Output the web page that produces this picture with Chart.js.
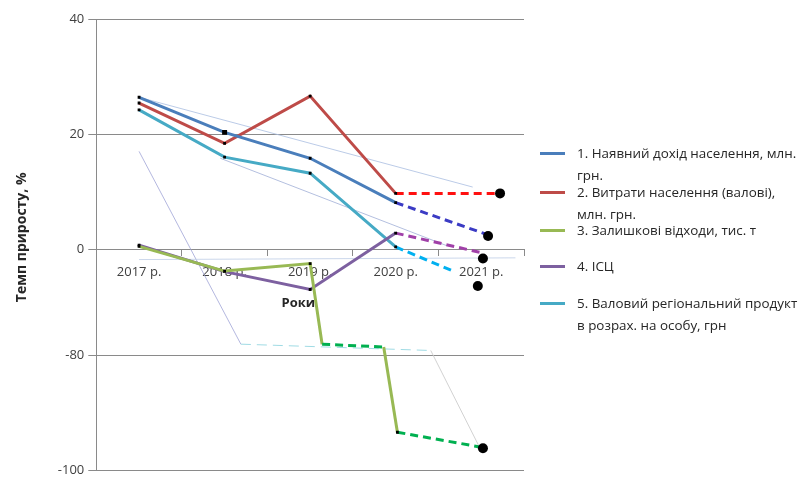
<!DOCTYPE html>
<html>
<head>
<meta charset="utf-8">
<script src="https://cdn.jsdelivr.net/npm/chart.js@4.4.1/dist/chart.umd.min.js"></script>
<style>
    html, body { margin: 0; padding: 0; background: #fff; }
    #wrap { position: relative; width: 803px; height: 482px; }
    #legend { position: absolute; left: 0; top: 0; font-family: "Open Sans", "DejaVu Sans", sans-serif; font-size: 13.4px; color: #262626; }
    .item { position: absolute; left: 540px; white-space: nowrap; line-height: 22px; }
    .item .sw { position: absolute; left: 0; top: 9.5px; width: 25px; height: 3px; }
    .item .tx { position: absolute; left: 37px; top: 0; }
</style>
</head>
<body>
<div id="wrap"><canvas id="chart"></canvas><div id="legend"></div></div>
<script>
// Підписи осі X і шкала Y (шкала з розривом між 0 і -80)
const years = ['2017 р.', '2018 р.', '2019 р.', '2020 р.', '2021 р.'];
const yTickLabels = [-100, -80, 0, 20, 40];

// Назви рядів для легенди
const seriesNames = [
    ['1. Наявний дохід населення, млн.', 'грн.'],
    ['2. Витрати населення (валові),', 'млн. грн.'],
    ['3. Залишкові відходи, тис. т'],
    ['4. ІСЦ'],
    ['5. Валовий регіональний продукт', 'в розрах. на особу, грн']
];
const seriesColors = ['#4a7ebb', '#be4b48', '#98b954', '#7d60a0', '#46aac5'];
const forecastColors = ['#3b3bc4', '#ff1010', '#00b050', '#a040a8', '#00b0f0'];

// Значення, % (остання точка кожного ряду - прогноз 2021 р.)
const incomeX = [0, 1, 2, 3, 4.06];
const income = [26.4, 20.3, 15.8, 8.1, 2.6];
const spendingX = [0, 1, 2, 3, 4.2];
const spending = [25.4, 18.4, 26.6, 9.7, 9.7];
const wasteX = [0, 1, 2, 2.14, 2.86, 3.02, 4.0];
const waste = [0.5, -3.8, -2.5, -78.1, -78.6, -93.4, -96.0];
const cpiX = [0, 1, 2, 3, 4.0];
const cpi = [0.7, -3.9, -7.0, 2.8, -0.6];
const grpX = [0, 1, 2, 3, 3.67];
const grp = [24.2, 16.0, 13.2, 0.4, -3.8];

// Великі точки прогнозу
const dotsX = [4.08, 4.22, 4.02, 3.96, 4.02];
const dots = [2.3, 9.7, -1.6, -6.4, -96.2];

// Бліді лінії тренду
const trendAX = [0, 3.9];
const trendA = [26.4, 10.8];
const trendBX = [0.95, 3.6];
const trendB = [15.8, 0.6];
const trendCX = [0, 4.4];
const trendC = [-1.8, -1.5];
const trendDX = [0, 1.19, 3.41, 4.0];
const trendD = [17, -78.1, -79.2, -96.6];

// розрив шкали: значення нижче -40 зсуваються вгору
const BREAK_SHIFT = 61.6;
function toAxis(v) {
    return v < -40 ? v + BREAK_SHIFT : v;
}
function pts(xs, ys) {
    return xs.map((x, i) => ({ x: x, y: toAxis(ys[i]) }));
}

const FONT = '"Open Sans", "DejaVu Sans", sans-serif';

function mainSeries(i, xs, ys, radii, dashedFrom) {
    return {
        label: seriesNames[i].join(' '),
        data: pts(xs, ys),
        borderColor: seriesColors[i],
        borderWidth: 3,
        pointStyle: 'rect',
        pointRadius: radii,
        pointBackgroundColor: '#000',
        pointBorderWidth: 0,
        order: 2,
        segment: {
            borderColor: ctx => dashedFrom.includes(ctx.p0DataIndex) ? forecastColors[i] : undefined,
            borderDash: ctx => dashedFrom.includes(ctx.p0DataIndex) ? [8, 5] : undefined
        }
    };
}

function faint(xs, ys, color, segColors, dashIdx) {
    return {
        data: pts(xs, ys),
        borderColor: color,
        borderWidth: 1,
        pointRadius: 0,
        order: 9,
        segment: {
            borderColor: ctx => segColors && segColors[ctx.p0DataIndex] ? segColors[ctx.p0DataIndex] : undefined,
            borderDash: ctx => ctx.p0DataIndex === dashIdx ? [10, 6] : undefined
        }
    };
}

const ctx = document.getElementById('chart').getContext('2d');
const chart = new Chart(ctx, {
    type: 'line',
    data: {
        datasets: [
            mainSeries(0, incomeX, income, [2, 3.5, 2, 2, 0], [3]),
            mainSeries(1, spendingX, spending, [2, 2, 2, 2, 0], [3]),
            mainSeries(2, wasteX, waste, [2, 2, 2, 0, 0, 2, 0], [3, 5]),
            mainSeries(3, cpiX, cpi, [2, 2, 2, 2, 0], [3]),
            mainSeries(4, grpX, grp, [2, 2, 2, 2, 0], [3]),
            {
                data: pts(dotsX, dots),
                showLine: false,
                pointRadius: 5,
                pointBackgroundColor: '#000',
                pointBorderWidth: 0,
                order: 1
            },
            faint(trendAX, trendA, 'rgba(170,190,225,0.8)'),
            faint(trendBX, trendB, 'rgba(160,175,215,0.8)'),
            faint(trendCX, trendC, 'rgba(190,205,230,0.8)'),
            faint(trendDX, trendD, 'rgba(160,165,215,0.8)', { 1: 'rgba(150,215,225,0.9)', 2: 'rgba(205,205,205,0.9)' }, 1)
        ]
    },
    options: {
        responsive: true,
        maintainAspectRatio: false,
        animation: false,
        layout: { padding: { left: 0, top: 19, right: 279, bottom: 0 } },
        plugins: {
            tooltip: { enabled: false },
            legend: { display: false }
        },
        scales: {
            x: {
                type: 'linear',
                position: { y: 0 },
                min: -0.5,
                max: 4.5,
                afterBuildTicks: s => {
                    s.ticks = [];
                    for (let v = -0.5; v <= 4.5; v += 0.5) s.ticks.push({ value: v });
                },
                ticks: {
                    autoSkip: false,
                    maxRotation: 0,
                    padding: 9,
                    color: '#404040',
                    font: { family: FONT, size: 13 },
                    callback: v => Number.isInteger(v) ? years[v] : ''
                },
                grid: {
                    drawOnChartArea: false,
                    drawTicks: true,
                    tickLength: 6,
                    tickColor: c => (c.tick && c.tick.value % 1 !== 0) ? '#8a8a8a' : 'rgba(0,0,0,0)'
                },
                border: { color: '#8a8a8a', width: 1 },
                title: {
                    display: true,
                    text: 'Роки       ',
                    color: '#262626',
                    font: { family: FONT, size: 13, weight: 'bold' },
                    padding: { top: 7, bottom: 0 }
                }
            },
            y: {
                min: toAxis(-100),
                max: 40,
                afterBuildTicks: s => {
                    s.ticks = yTickLabels.map(v => ({ value: toAxis(v) }));
                },
                ticks: {
                    padding: 4,
                    color: '#404040',
                    font: { family: FONT, size: 13 },
                    callback: (v, i) => yTickLabels[i]
                },
                grid: { color: '#8a8a8a', tickLength: 8 },
                border: { color: '#8a8a8a' },
                title: {
                    display: true,
                    text: '    Темп приросту, %',
                    color: '#262626',
                    font: { family: FONT, size: 14, weight: 'bold' },
                    padding: { top: 14, bottom: 23 }
                }
            }
        }
    }
});

// Легенда праворуч (HTML, щоб текст переносився як в оригіналі)
const legendTops = [153, 192, 230, 266, 303];
const legend = document.getElementById('legend');
seriesNames.forEach((lines, i) => {
    const item = document.createElement('div');
    item.className = 'item';
    item.style.top = (legendTops[i] - 11) + 'px';
    const sw = document.createElement('span');
    sw.className = 'sw';
    sw.style.background = seriesColors[i];
    const tx = document.createElement('span');
    tx.className = 'tx';
    tx.innerHTML = lines.join('<br>');
    item.appendChild(sw);
    item.appendChild(tx);
    legend.appendChild(item);
});
</script>
</body>
</html>
